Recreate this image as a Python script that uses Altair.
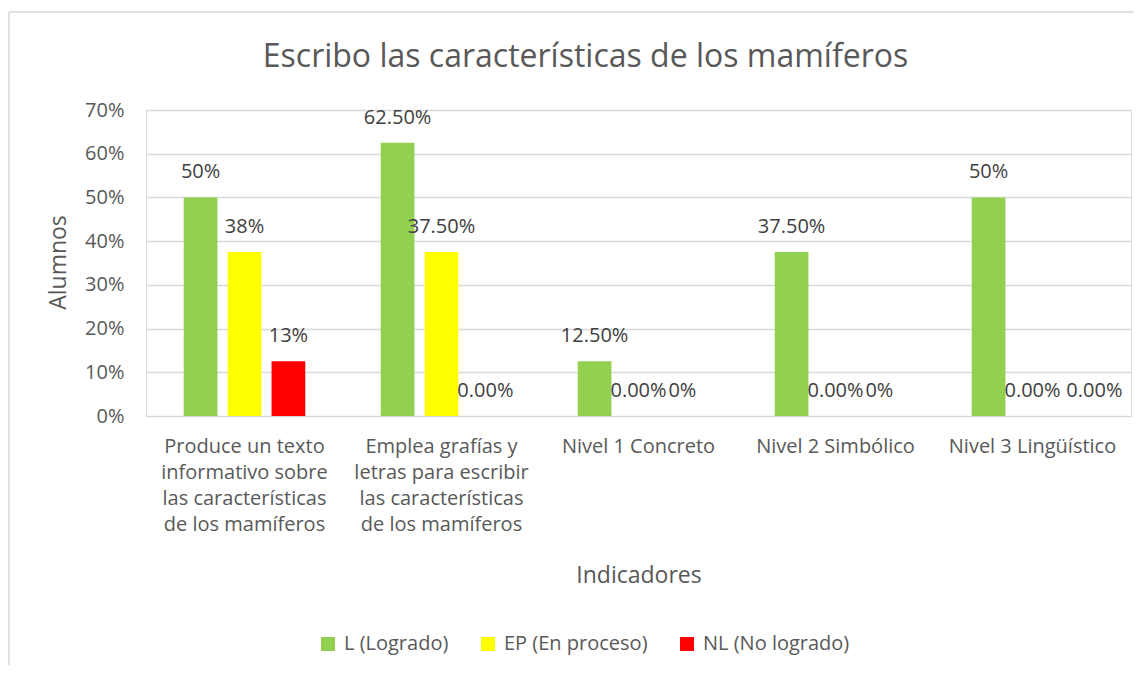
import altair as alt
import pandas as pd

categories = [
    "Produce un texto|informativo sobre|las características|de los mamíferos",
    "Emplea grafías y|letras para escribir|las características|de los mamíferos",
    "Nivel 1 Concreto",
    "Nivel 2 Simbólico",
    "Nivel 3 Lingüístico",
]
series = ["L (Logrado)", "EP (En proceso)", "NL (No logrado)"]
colors = ["#92D050", "#FFFF00", "#FF0000"]

logrado = [0.50, 0.625, 0.125, 0.375, 0.50]
en_proceso = [0.375, 0.375, 0.0, 0.0, 0.0]
no_logrado = [0.125, 0.0, 0.0, 0.0, 0.0]

labels_logrado = ["50%", "62.50%", "12.50%", "37.50%", "50%"]
labels_en_proceso = ["38%", "37.50%", "0.00%", "0.00%", "0.00%"]
labels_no_logrado = ["13%", "0.00%", "0%", "0%", "0.00%"]

rows = []
for s, vals, labs in zip(series, [logrado, en_proceso, no_logrado],
                         [labels_logrado, labels_en_proceso, labels_no_logrado]):
    for c, v, l in zip(categories, vals, labs):
        rows.append({"Indicador": c, "Serie": s, "Valor": v, "Etiqueta": l})
df = pd.DataFrame(rows)

FONT = "Open Sans"
GREY = "#595959"

x_enc = alt.X(
    "Indicador:N",
    sort=categories,
    scale=alt.Scale(paddingInner=0.383, paddingOuter=0.1915),
    axis=alt.Axis(
        title="Indicadores",
        labelExpr="split(datum.label, '|')",
        labelAngle=0,
        labelPadding=20,
        labelLineHeight=26,
        labelFontSize=20,
        labelColor=GREY,
        labelFont=FONT,
        labelLimit=400,
        titleFontSize=23,
        titleFont=FONT,
        titleColor=GREY,
        titleFontWeight="normal",
        titlePadding=30,
        domain=False,
        ticks=False,
        grid=False,
    ),
)
xoff_enc = alt.XOffset(
    "Serie:N",
    sort=series,
    scale=alt.Scale(paddingInner=0.232, paddingOuter=0),
)
y_enc = alt.Y(
    "Valor:Q",
    scale=alt.Scale(domain=[0, 0.7], nice=False),
    axis=alt.Axis(
        title="Alumnos",
        format=".0%",
        values=[0, 0.1, 0.2, 0.3, 0.4, 0.5, 0.6, 0.7],
        labelFontSize=20,
        labelColor=GREY,
        labelFont=FONT,
        labelPadding=22,
        titleFontSize=23,
        titleFont=FONT,
        titleColor=GREY,
        titleFontWeight="normal",
        titleX=-88,
        titleY=152,
        titleAngle=270,
        titleAlign="center",
        titleBaseline="middle",
        domain=False,
        ticks=False,
        grid=True,
        gridColor="#d9d9d9",
        gridWidth=1.3,
    ),
)

bars = alt.Chart(df).mark_bar().encode(
    x=x_enc,
    xOffset=xoff_enc,
    y=y_enc,
    color=alt.Color(
        "Serie:N",
        sort=series,
        scale=alt.Scale(domain=series, range=colors),
        legend=alt.Legend(
            title=None,
            orient="none",
            legendX=172,
            legendY=524,
            direction="horizontal",
            symbolType="square",
            symbolSize=196,
            symbolStrokeWidth=0,
            labelFontSize=20,
            labelFont=FONT,
            labelColor=GREY,
            labelOffset=6,
            columnPadding=29,
            padding=0,
        ),
    ),
)

last_nl = (alt.datum.Indicador == categories[4]) & (alt.datum.Serie == series[2])

text_base = alt.Chart(df).encode(
    x=alt.X("Indicador:N", sort=categories),
    xOffset=alt.XOffset("Serie:N", sort=series),
    y="Valor:Q",
    text="Etiqueta:N",
)
text = text_base.mark_text(
    dy=-25, baseline="middle", align="center", fontSize=20, font=FONT, color="#404040"
).transform_filter(~last_nl)
text_last = text_base.mark_text(
    dy=-25, dx=18, baseline="middle", align="center", fontSize=20, font=FONT, color="#404040"
).transform_filter(last_nl)

frame_left = alt.Chart(alt.Data(values=[{}])).mark_rule(color="#d9d9d9", strokeWidth=1.5).encode(
    x=alt.value(-137), y=alt.value(-98), y2=alt.value(555)
)
frame_top = alt.Chart(alt.Data(values=[{}])).mark_rule(color="#d9d9d9", strokeWidth=1.5).encode(
    x=alt.value(-137), x2=alt.value(988), y=alt.value(-98)
)

chart = alt.layer(frame_left, frame_top, bars, text, text_last).properties(
    width=985,
    height=306,
    title=alt.TitleParams(
        "Escribo las características de los mamíferos",
        fontSize=32,
        font=FONT,
        color=GREY,
        fontWeight="normal",
        anchor="middle",
        dx=-53,
        offset=-63,
    ),
    padding={"left": 0, "top": 3, "right": 0, "bottom": 0},
).configure_view(stroke=None).configure(background="white")

chart.save("out.html", embed_options={"renderer": "svg", "actions": False})
